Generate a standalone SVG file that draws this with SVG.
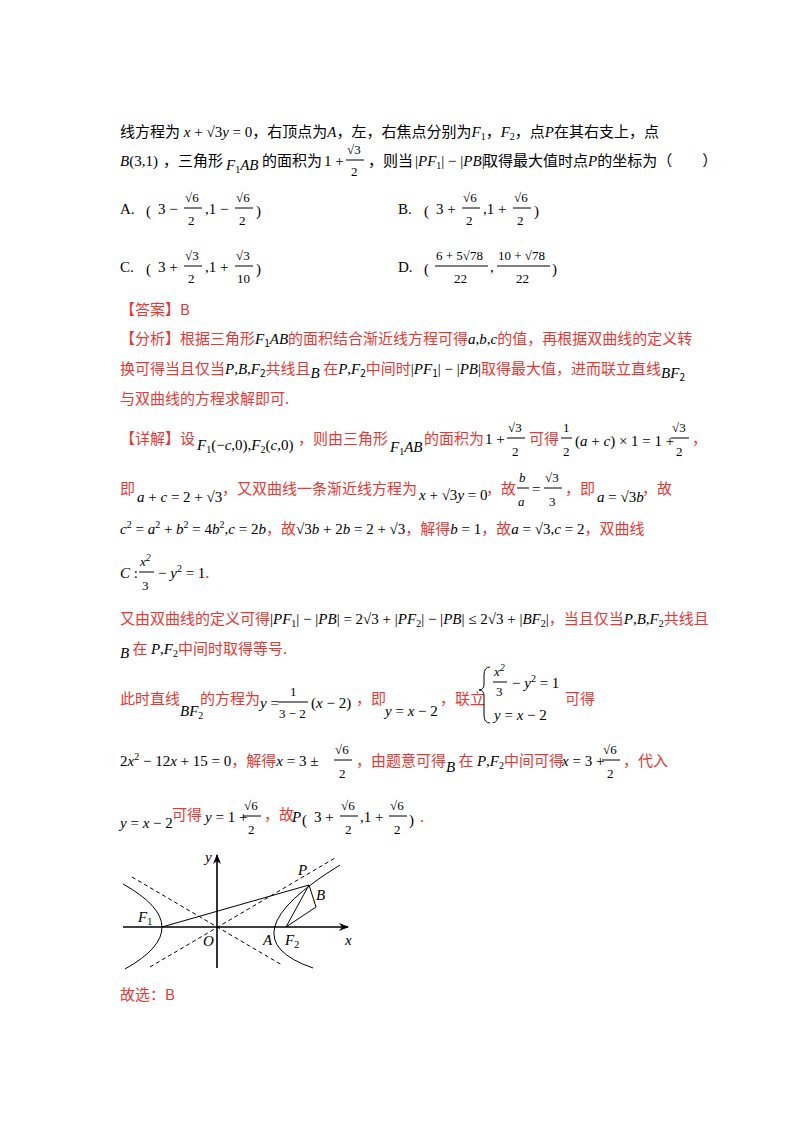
<svg xmlns="http://www.w3.org/2000/svg" width="800" height="1132" viewBox="0 0 800 1132">
<style>
text{font-family:"Liberation Serif","Noto Sans CJK SC",serif;font-size:15px;fill:#000}
.z{font-family:"Noto Sans CJK SC",sans-serif;font-size:15px}
.r{fill:#e53935}
.i{font-style:italic}
.s{font-size:10px}
.f{font-size:13px}
.ln{stroke:#000;stroke-width:1;fill:none}
.ax{stroke:#000;stroke-width:1.6;fill:none}
.d{stroke:#000;stroke-width:1;stroke-dasharray:4 3;fill:none}
</style>
<defs><marker id="ar" markerWidth="10" markerHeight="8" refX="9" refY="4" orient="auto" markerUnits="userSpaceOnUse"><path d="M0,0 L10,4 L0,8 L3,4 Z" fill="#000"/></marker></defs>
<g id="question">
<text x="120" y="137"><tspan class="z">线方程为</tspan><tspan class="i"> x</tspan> + √3<tspan class="i">y</tspan> = 0<tspan class="z">，右顶点为</tspan><tspan class="i">A</tspan><tspan class="z">，左，右焦点分别为</tspan><tspan class="i">F</tspan><tspan class="s" dy="3">1</tspan><tspan class="z" dy="-3">，</tspan><tspan class="i">F</tspan><tspan class="s" dy="3">2</tspan><tspan class="z" dy="-3">，点</tspan><tspan class="i">P</tspan><tspan class="z">在其右支上，点</tspan></text>
<text x="120" y="166"><tspan class="i">B</tspan>(3,1)</text>
<text x="163" y="166" class="z">，三角形</text>
<text x="226" y="170"><tspan class="i">F</tspan><tspan class="s" dy="3">1</tspan><tspan class="i" dy="-3">AB</tspan></text>
<text x="262" y="166" class="z">的面积为</text>
<text x="324" y="166">1 +</text>
<text x="347" y="154" class="f">√3</text><line x1="346" y1="160" x2="364" y2="160" class="ln"/><text x="351" y="176" class="f">2</text>
<text x="368" y="166" class="z">，则当</text>
<text x="415" y="166">|<tspan class="i">PF</tspan><tspan class="s" dy="3">1</tspan><tspan dy="-3">| − |</tspan><tspan class="i">PB</tspan>|</text>
<text x="483" y="166" class="z">取得最大值时点<tspan class="i" font-family="Liberation Serif">P</tspan>的坐标为（　　）</text>
</g>
<g id="options">
<text x="120" y="214">A.</text>
<text x="146" y="216" font-size="30">(</text><text x="158" y="214">3 −</text><text x="185" y="202" class="f">√6</text><line x1="184" y1="208" x2="202" y2="208" class="ln"/><text x="188" y="225" class="f">2</text><text x="205" y="214">,1 −</text><text x="236" y="202" class="f">√6</text><line x1="235" y1="208" x2="253" y2="208" class="ln"/><text x="239" y="225" class="f">2</text><text x="256" y="216" font-size="30">)</text>
<text x="398" y="214">B.</text>
<text x="424" y="216" font-size="30">(</text><text x="436" y="214">3 +</text><text x="463" y="202" class="f">√6</text><line x1="462" y1="208" x2="480" y2="208" class="ln"/><text x="466" y="225" class="f">2</text><text x="483" y="214">,1 +</text><text x="514" y="202" class="f">√6</text><line x1="513" y1="208" x2="531" y2="208" class="ln"/><text x="517" y="225" class="f">2</text><text x="534" y="216" font-size="30">)</text>
<text x="120" y="272">C.</text>
<text x="146" y="274" font-size="30">(</text><text x="158" y="272">3 +</text><text x="185" y="260" class="f">√3</text><line x1="184" y1="266" x2="202" y2="266" class="ln"/><text x="188" y="283" class="f">2</text><text x="205" y="272">,1 +</text><text x="236" y="260" class="f">√3</text><line x1="235" y1="266" x2="253" y2="266" class="ln"/><text x="237" y="283" class="f">10</text><text x="256" y="274" font-size="30">)</text>
<text x="398" y="272">D.</text>
<text x="424" y="274" font-size="30">(</text><text x="436" y="260" class="f">6 + 5√78</text><line x1="435" y1="266" x2="488" y2="266" class="ln"/><text x="454" y="283" class="f">22</text><text x="490" y="272">,</text><text x="498" y="260" class="f">10 + √78</text><line x1="497" y1="266" x2="550" y2="266" class="ln"/><text x="516" y="283" class="f">22</text><text x="552" y="274" font-size="30">)</text>
</g>
<g id="answer">
<text x="120" y="315" class="z r">【答案】B</text>
<text x="120" y="344" class="z r">【分析】根据三角形<tspan class="i" font-family="Liberation Serif" fill="#000">F</tspan><tspan class="s" fill="#000" dy="3">1</tspan><tspan class="i" font-family="Liberation Serif" fill="#000" dy="-3">AB</tspan>的面积结合渐近线方程可得<tspan class="i" font-family="Liberation Serif" fill="#000">a</tspan><tspan font-family="Liberation Serif" fill="#000">,</tspan><tspan class="i" font-family="Liberation Serif" fill="#000">b</tspan><tspan font-family="Liberation Serif" fill="#000">,</tspan><tspan class="i" font-family="Liberation Serif" fill="#000">c</tspan>的值，再根据双曲线的定义转</text>
<text x="120" y="374" class="z r">换可得当且仅当<tspan class="i" font-family="Liberation Serif" fill="#000">P</tspan><tspan font-family="Liberation Serif" fill="#000">,</tspan><tspan class="i" font-family="Liberation Serif" fill="#000">B</tspan><tspan font-family="Liberation Serif" fill="#000">,</tspan><tspan class="i" font-family="Liberation Serif" fill="#000">F</tspan><tspan class="s" fill="#000" dy="3">2</tspan><tspan dy="-3">共线且</tspan><tspan class="i" font-family="Liberation Serif" fill="#000" dy="4">B</tspan><tspan dy="-4"> 在</tspan><tspan class="i" font-family="Liberation Serif" fill="#000">P</tspan><tspan font-family="Liberation Serif" fill="#000">,</tspan><tspan class="i" font-family="Liberation Serif" fill="#000">F</tspan><tspan class="s" fill="#000" dy="3">2</tspan><tspan dy="-3">中间时</tspan><tspan font-family="Liberation Serif" fill="#000">|</tspan><tspan class="i" font-family="Liberation Serif" fill="#000">PF</tspan><tspan class="s" fill="#000" dy="3">1</tspan><tspan font-family="Liberation Serif" fill="#000" dy="-3">| − |</tspan><tspan class="i" font-family="Liberation Serif" fill="#000">PB</tspan><tspan font-family="Liberation Serif" fill="#000">|</tspan>取得最大值，进而联立直线<tspan class="i" font-family="Liberation Serif" fill="#000" dy="4">BF</tspan><tspan class="s" fill="#000" dy="3">2</tspan></text>
<text x="120" y="404" class="z r">与双曲线的方程求解即可.</text>
</g>
<g id="detail">
<text x="120" y="444" class="z r">【详解】设</text>
<text x="197" y="450"><tspan class="i">F</tspan><tspan class="s" dy="3">1</tspan><tspan dy="-3">(−</tspan><tspan class="i">c</tspan>,0),<tspan class="i">F</tspan><tspan class="s" dy="3">2</tspan><tspan dy="-3">(</tspan><tspan class="i">c</tspan>,0)</text>
<text x="298" y="444" class="z r">，则由三角形</text>
<text x="390" y="452"><tspan class="i">F</tspan><tspan class="s" dy="3">1</tspan><tspan class="i" dy="-3">AB</tspan></text>
<text x="424" y="444" class="z r">的面积为</text>
<text x="485" y="444">1 +</text>
<text x="508" y="432" class="f">√3</text><line x1="507" y1="438" x2="525" y2="438" class="ln"/><text x="512" y="456" class="f">2</text>
<text x="529" y="444" class="z r">可得</text>
<text x="563" y="432" class="f">1</text><line x1="561" y1="438" x2="572" y2="438" class="ln"/><text x="563" y="456" class="f">2</text>
<text x="575" y="446">(<tspan class="i">a</tspan> + <tspan class="i">c</tspan>) × 1 = 1 +</text>
<text x="672" y="432" class="f">√3</text><line x1="671" y1="438" x2="689" y2="438" class="ln"/><text x="676" y="456" class="f">2</text>
<text x="692" y="444" class="z r">，</text>
<text x="120" y="494" class="z r">即</text>
<text x="137" y="502"><tspan class="i">a</tspan> + <tspan class="i">c</tspan> = 2 + √3</text>
<text x="222" y="494" class="z r">，又双曲线一条渐近线方程为</text>
<text x="419" y="500"><tspan class="i">x</tspan> + √3<tspan class="i">y</tspan> = 0</text>
<text x="486" y="494" class="z r">，故</text>
<text x="519" y="482" class="f i">b</text><line x1="517" y1="488" x2="529" y2="488" class="ln"/><text x="518" y="506" class="f i">a</text>
<text x="532" y="494">=</text>
<text x="545" y="482" class="f">√3</text><line x1="544" y1="488" x2="562" y2="488" class="ln"/><text x="549" y="506" class="f">3</text>
<text x="565" y="494" class="z r">，即</text>
<text x="597" y="502" font-size="13"><tspan class="i">a</tspan> = √3<tspan class="i">b</tspan></text>
<text x="642" y="494" class="z r">，故</text>
<text x="120" y="534"><tspan class="i">c</tspan><tspan class="s" dy="-6">2</tspan><tspan dy="6"> = </tspan><tspan class="i">a</tspan><tspan class="s" dy="-6">2</tspan><tspan dy="6"> + </tspan><tspan class="i">b</tspan><tspan class="s" dy="-6">2</tspan><tspan dy="6"> = 4</tspan><tspan class="i">b</tspan><tspan class="s" dy="-6">2</tspan><tspan dy="6">,</tspan><tspan class="i">c</tspan> = 2<tspan class="i">b</tspan><tspan class="z r">，故</tspan>√3<tspan class="i">b</tspan> + 2<tspan class="i">b</tspan> = 2 + √3<tspan class="z r">，解得</tspan><tspan class="i">b</tspan> = 1<tspan class="z r">，故</tspan><tspan class="i">a</tspan> = √3,<tspan class="i">c</tspan> = 2<tspan class="z r">，双曲线</tspan></text>
<text x="120" y="578"><tspan class="i">C</tspan> :</text>
<text x="140" y="566" class="f i">x<tspan class="s" dy="-5">2</tspan></text><line x1="139" y1="572" x2="154" y2="572" class="ln"/><text x="142" y="590" class="f">3</text>
<text x="158" y="578">− <tspan class="i">y</tspan><tspan class="s" dy="-6">2</tspan><tspan dy="6"> = 1</tspan><tspan class="z r">.</tspan></text>
<text x="120" y="624" class="z r">又由双曲线的定义可得<tspan font-family="Liberation Serif" fill="#000">|<tspan class="i">PF</tspan><tspan class="s" dy="3">1</tspan><tspan dy="-3">| − |</tspan><tspan class="i">PB</tspan>| = 2√3 + |<tspan class="i">PF</tspan><tspan class="s" dy="3">2</tspan><tspan dy="-3">| − |</tspan><tspan class="i">PB</tspan>| ≤ 2√3 + |<tspan class="i">BF</tspan><tspan class="s" dy="3">2</tspan><tspan dy="-3">|</tspan></tspan>，当且仅当<tspan font-family="Liberation Serif" fill="#000"><tspan class="i">P</tspan>,<tspan class="i">B</tspan>,<tspan class="i">F</tspan><tspan class="s" dy="3">2</tspan></tspan><tspan dy="-3">共线且</tspan></text>
<text x="120" y="654" class="z r"><tspan class="i" font-family="Liberation Serif" fill="#000" dy="4">B</tspan><tspan dy="-4"> 在 </tspan><tspan font-family="Liberation Serif" fill="#000"><tspan class="i">P</tspan>,<tspan class="i">F</tspan><tspan class="s" dy="3">2</tspan></tspan><tspan dy="-3">中间时取得等号.</tspan></text>
<text x="120" y="704" class="z r">此时直线</text>
<text x="180" y="716"><tspan class="i">BF</tspan><tspan class="s" dy="3">2</tspan></text>
<text x="200" y="704" class="z r">的方程为</text>
<text x="260" y="708"><tspan class="i">y</tspan> =</text>
<text x="290" y="696" class="f">1</text><line x1="278" y1="702" x2="308" y2="702" class="ln"/><text x="279" y="718" class="f">3 − 2</text>
<text x="311" y="708">(<tspan class="i">x</tspan> − 2)</text>
<text x="356" y="704" class="z r">，即</text>
<text x="385" y="716"><tspan class="i">y</tspan> = <tspan class="i">x</tspan> − 2</text>
<text x="440" y="704" class="z r">，联立</text>
<path d="M490,667 Q484,667 484,675 L484,684 Q484,690 479,690 Q484,690 484,696 L484,715 Q484,723 490,723" class="ln"/>
<text x="494" y="676" class="f i">x<tspan class="s" dy="-5">2</tspan></text><line x1="493" y1="682" x2="507" y2="682" class="ln"/><text x="496" y="696" class="f">3</text>
<text x="512" y="688">− <tspan class="i">y</tspan><tspan class="s" dy="-6">2</tspan><tspan dy="6"> = 1</tspan></text>
<text x="494" y="720"><tspan class="i">y</tspan> = <tspan class="i">x</tspan> − 2</text>
<text x="565" y="704" class="z r">可得</text>
<text x="120" y="766">2<tspan class="i">x</tspan><tspan class="s" dy="-6">2</tspan><tspan dy="6"> − 12</tspan><tspan class="i">x</tspan> + 15 = 0<tspan class="z r">，解得</tspan><tspan class="i">x</tspan> = 3 ±</text>
<text x="335" y="754" class="f">√6</text><line x1="334" y1="760" x2="352" y2="760" class="ln"/><text x="339" y="778" class="f">2</text>
<text x="356" y="766" class="z r">，由题意可得<tspan class="i" font-family="Liberation Serif" fill="#000" dy="6">B</tspan><tspan dy="-6"> 在 </tspan><tspan font-family="Liberation Serif" fill="#000"><tspan class="i">P</tspan>,<tspan class="i">F</tspan><tspan class="s" dy="3">2</tspan></tspan><tspan dy="-3">中间可得</tspan></text>
<text x="562" y="766"><tspan class="i">x</tspan> = 3 +</text>
<text x="603" y="754" class="f">√6</text><line x1="602" y1="760" x2="620" y2="760" class="ln"/><text x="607" y="778" class="f">2</text>
<text x="623" y="766" class="z r">，代入</text>
<text x="120" y="828"><tspan class="i">y</tspan> = <tspan class="i">x</tspan> − 2</text>
<text x="172" y="820" class="z r">可得</text>
<text x="205" y="822"><tspan class="i">y</tspan> = 1 +</text>
<text x="244" y="810" class="f">√6</text><line x1="243" y1="816" x2="261" y2="816" class="ln"/><text x="248" y="834" class="f">2</text>
<text x="264" y="820" class="z r">，故</text>
<text x="292" y="822" class="i">P</text>
<text x="302" y="825" font-size="30">(</text><text x="314" y="822">3 +</text><text x="341" y="810" class="f">√6</text><line x1="340" y1="816" x2="358" y2="816" class="ln"/><text x="345" y="834" class="f">2</text><text x="360" y="822">,1 +</text><text x="390" y="810" class="f">√6</text><line x1="389" y1="816" x2="407" y2="816" class="ln"/><text x="394" y="834" class="f">2</text><text x="409" y="825" font-size="30">)</text><text x="420" y="822" class="z r">.</text>
</g>
<g id="figure">
<line x1="123" y1="927" x2="348" y2="927" class="ax" marker-end="url(#ar)"/>
<line x1="217" y1="968" x2="217" y2="855" class="ax" marker-end="url(#ar)"/>
<line x1="132" y1="877" x2="282" y2="965" class="d"/>
<line x1="150" y1="967" x2="335" y2="858" class="d"/>
<path d="M123,884 Q200,927 125,969" class="ln" stroke-width="1.3"/>
<path d="M340,865 Q223,937 313,968" class="ln" stroke-width="1.3"/>
<line x1="162" y1="927" x2="309" y2="885" class="ln" stroke-width="1.3"/>
<path d="M309,885 L286,927 L316,907 L309,885" class="ln" stroke-width="1.2"/>
<text x="205" y="862" class="i">y</text>
<text x="345" y="945" class="i">x</text>
<text x="203" y="946" class="i">O</text>
<text x="298" y="875" class="i">P</text>
<text x="316" y="900" class="i">B</text>
<text x="138" y="922" class="i">F<tspan class="s" dy="3" font-style="normal">1</tspan></text>
<text x="263" y="945" class="i">A</text>
<text x="285" y="945" class="i">F<tspan class="s" dy="3" font-style="normal">2</tspan></text>
</g>
<text x="120" y="1000" class="z r">故选：B</text>
</svg>
